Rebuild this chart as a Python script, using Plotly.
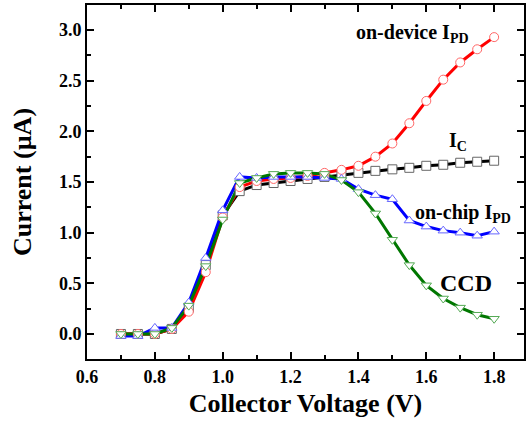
import plotly.graph_objects as go

voltage = [0.70, 0.75, 0.80, 0.85, 0.90, 0.95, 1.00, 1.05, 1.10, 1.15, 1.20, 1.25,
           1.30, 1.35, 1.40, 1.45, 1.50, 1.55, 1.60, 1.65, 1.70, 1.75, 1.80]

ic = [0.00, 0.00, 0.00, 0.05, 0.26, 0.68, 1.17, 1.41, 1.47, 1.49, 1.51, 1.53,
      1.55, 1.57, 1.59, 1.61, 1.625, 1.64, 1.66, 1.67, 1.69, 1.70, 1.71]
on_device = [0.00, 0.00, 0.00, 0.05, 0.22, 0.61, 1.15, 1.45, 1.51, 1.53, 1.54, 1.56,
             1.59, 1.62, 1.66, 1.75, 1.88, 2.08, 2.30, 2.51, 2.68, 2.81, 2.93]
on_chip = [-0.02, -0.02, 0.06, 0.06, 0.31, 0.75, 1.22, 1.55, 1.54, 1.55, 1.55, 1.55,
           1.54, 1.53, 1.43, 1.37, 1.33, 1.12, 1.06, 1.02, 1.00, 0.97, 1.01]
ccd = [0.00, 0.00, 0.00, 0.06, 0.28, 0.67, 1.13, 1.49, 1.54, 1.58, 1.59, 1.59,
       1.58, 1.52, 1.40, 1.19, 0.93, 0.68, 0.48, 0.35, 0.26, 0.19, 0.15]

x_ticks = [0.6, 0.8, 1.0, 1.2, 1.4, 1.6, 1.8]
x_tick_labels = ["0.6", "0.8", "1.0", "1.2", "1.4", "1.6", "1.8"]
y_ticks = [0.0, 0.5, 1.0, 1.5, 2.0, 2.5, 3.0]
y_tick_labels = ["0.0", "0.5", "1.0", "1.5", "2.0", "2.5", "3.0"]

series = [
    ("I_C", ic, "black", "#666666", "square"),
    ("on-device I_PD", on_device, "#ff0000", "#ff6666", "circle"),
    ("on-chip I_PD", on_chip, "#0000ff", "#6666ff", "triangle-up"),
    ("CCD", ccd, "#007700", "#55aa55", "triangle-down"),
]

fig = go.Figure()
for name, vals, lc, mc, sym in series:
    fig.add_trace(go.Scatter(x=voltage, y=vals, mode="lines", name=name,
                             line=dict(color=lc, width=3), showlegend=False))
for name, vals, lc, mc, sym in series:
    fig.add_trace(go.Scatter(x=voltage, y=vals, mode="markers", name=name,
                             marker=dict(symbol=sym, size=9, color="white",
                                         line=dict(color=mc, width=1)),
                             showlegend=False))

font = "Liberation Serif"
ann = [
    (1.388, 2.97, "on-device I<sub>PD</sub>", 20),
    (1.662, 1.895, "I<sub>C</sub>", 20),
    (1.562, 1.19, "on-chip I<sub>PD</sub>", 20),
    (1.635, 0.50, "CCD", 24),
]
for x, y, t, s in ann:
    fig.add_annotation(x=x, y=y, text="<b>" + t + "</b>", showarrow=False,
                       xanchor="left", yanchor="middle",
                       font=dict(family=font, size=s, color="black"))

fig.update_layout(
    width=526, height=426,
    margin=dict(l=87, r=2, t=5, b=67, autoexpand=False),
    paper_bgcolor="white", plot_bgcolor="white",
    font=dict(family=font, color="black"),
    xaxis=dict(
        range=[0.6, 1.888], tickmode="array", tickvals=x_ticks, ticktext=x_tick_labels,
        tickfont=dict(family=font, size=18, color="black", weight="bold"),
        showline=True, linewidth=2, linecolor="black", mirror="ticks",
        ticks="inside", ticklen=7, tickwidth=2, tickcolor="black",
        showgrid=False, zeroline=False,
        minor=dict(ticks="inside", tickmode="linear", tick0=0.6, dtick=0.1,
                   ticklen=4, tickwidth=2, tickcolor="black"),
        title=dict(text="<b>Collector Voltage (V)</b>",
                   font=dict(family=font, size=26, color="black"), standoff=8),
    ),
    yaxis=dict(
        range=[-0.247, 3.247], tickmode="array", tickvals=y_ticks, ticktext=y_tick_labels,
        tickfont=dict(family=font, size=18, color="black", weight="bold"),
        showline=True, linewidth=2, linecolor="black", mirror="ticks",
        ticks="inside", ticklen=7, tickwidth=2, tickcolor="black",
        showgrid=False, zeroline=False,
        minor=dict(ticks="inside", tickmode="linear", tick0=0, dtick=0.25,
                   ticklen=4, tickwidth=2, tickcolor="black"),
        title=dict(text="<b>Current (µA)</b>",
                   font=dict(family=font, size=26, color="black"), standoff=20),
    ),
)
fig.write_html("out.html")
